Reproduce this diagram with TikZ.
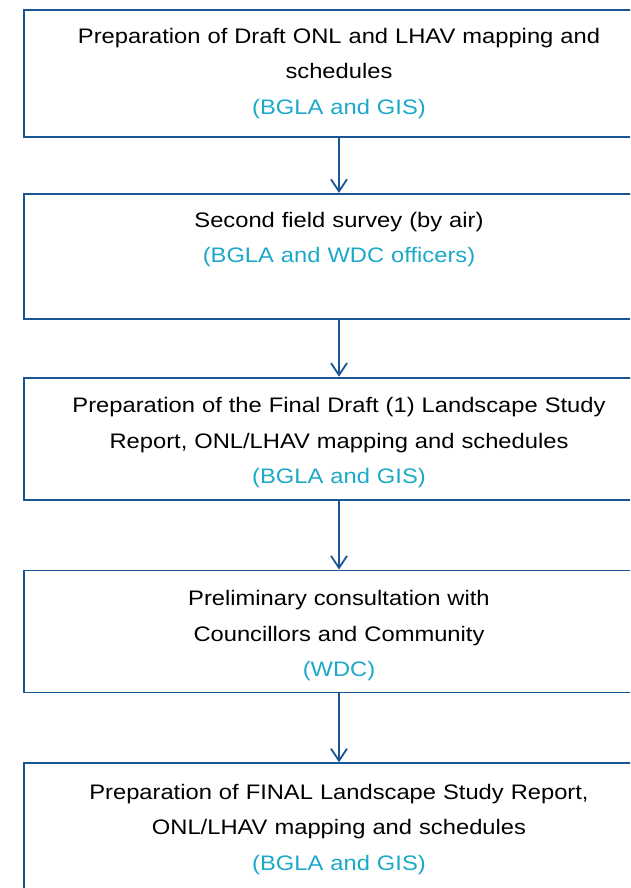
\documentclass[tikz,border=0pt]{standalone}
\usepackage{fontspec}
\setmainfont{Liberation Sans}[FakeStretch=1.13]
\usetikzlibrary{positioning}
\usetikzlibrary{arrows.meta}
\definecolor{boxblue}{RGB}{24,86,150}
\definecolor{whocyan}{RGB}{28,168,200}
\tikzset{>={Straight Barb[length=12pt,width=16pt]}}
\tikzset{stage/.style={draw=boxblue, line width=1.8pt, minimum width=630pt, text width=610pt, align=center, inner sep=0pt, font=\fontsize{21}{35.5}\selectfont}}
\tikzset{flow/.style={->, draw=boxblue, line width=1.8pt}}
\newcommand{\who}[1]{\textcolor{whocyan}{#1}}
\newcommand{\pad}{\rule{0pt}{24pt}}

\begin{document}
\begin{tikzpicture}[x=1pt, y=1pt]
\useasboundingbox (0,0) rectangle (630,-888);
\clip (0,0) rectangle (630,-888);

\node[stage, minimum height=127pt] (draft) at (339,-73.5)
 {Preparation of Draft ONL and LHAV mapping and\\ schedules\\ \who{(BGLA and GIS)}};
\node[stage, minimum height=125pt] (survey) [below = 55pt of draft]
 {\pad Second field survey (by air)\\ \who{(BGLA and WDC officers)}\\ \strut};
\node[stage, minimum height=122pt] (report) [below = 57pt of survey]
 {\pad Preparation of the Final Draft (1) Landscape Study\\ Report, ONL/LHAV mapping and schedules\\ \who{(BGLA and GIS)}};
\node[stage, minimum height=122pt] (consult) [below = 69pt of report]
 {\pad Preliminary consultation with\\ Councillors and Community\\ \who{(WDC)}};
\node[stage, minimum height=132pt] (final) [below = 69pt of consult]
 {Preparation of FINAL Landscape Study Report,\\ ONL/LHAV mapping and schedules\\ \who{(BGLA and GIS)}};

\draw[flow] (draft) -- (survey);
\draw[flow] (survey) -- (report);
\draw[flow] (report) -- (consult);
\draw[flow] (consult) -- (final);
\end{tikzpicture}
\end{document}
